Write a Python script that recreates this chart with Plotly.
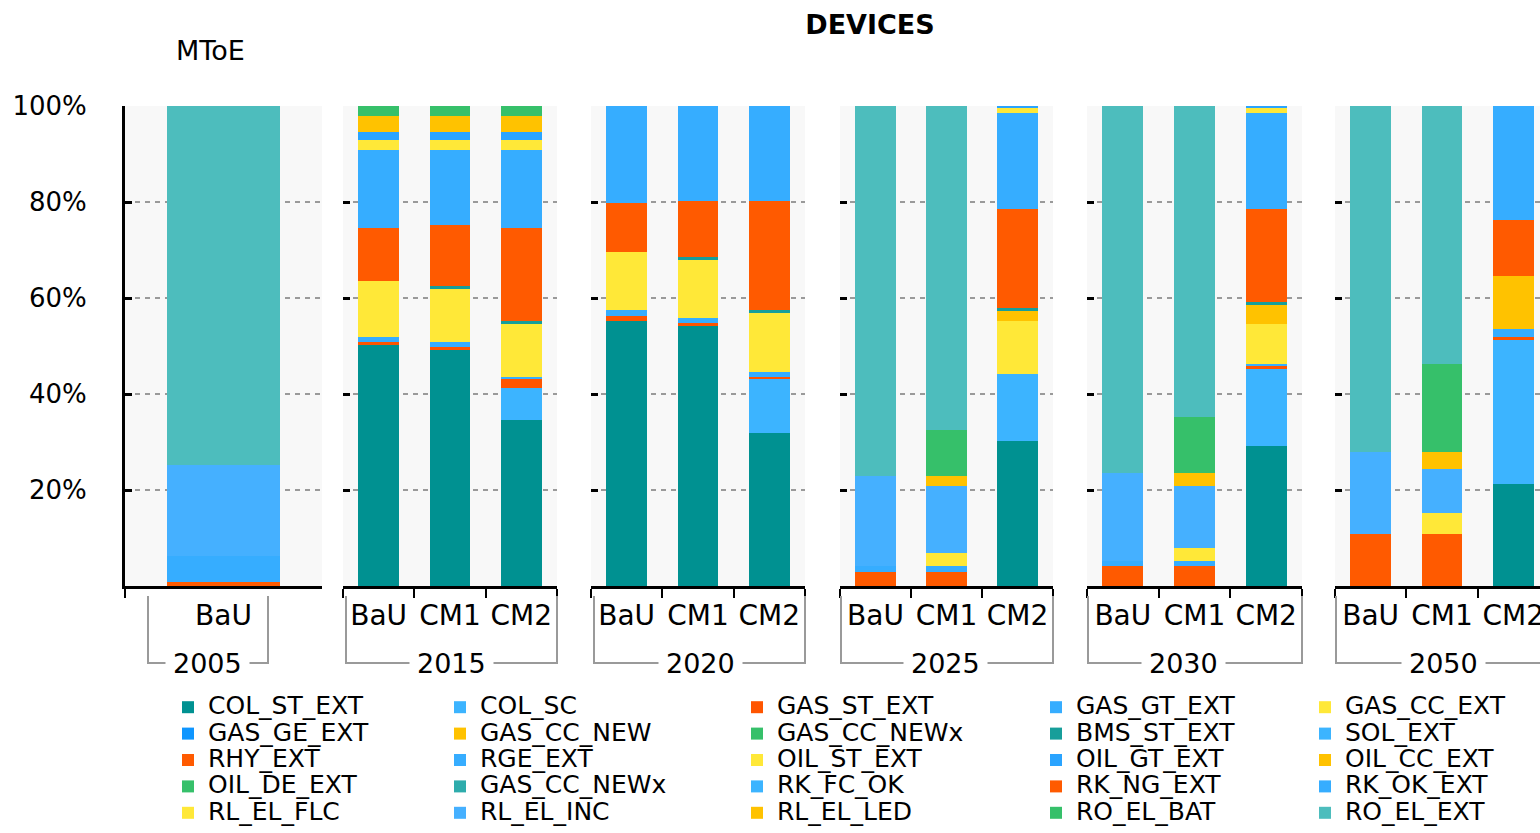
import plotly.graph_objects as go

# ---------------- data ----------------
YEARS = ["2005", "2015", "2020", "2025", "2030", "2050"]
SCENARIOS = [["BaU"], ["BaU", "CM1", "CM2"], ["BaU", "CM1", "CM2"],
             ["BaU", "CM1", "CM2"], ["BaU", "CM1", "CM2"], ["BaU", "CM1", "CM2"]]

# column order: 2005 BaU | 2015 BaU CM1 CM2 | 2020 ... | 2025 ... | 2030 ... | 2050 ...
COL_ST_EXT   = [0, 50.2, 49.3, 34.6, 55.3, 54.2, 31.8, 0, 0, 30.2, 0, 0, 29.15, 0, 0, 21.25]
COL_SC       = [0, 0, 0, 6.7, 0, 0, 11.25, 0, 0, 13.95, 0, 0, 16.05, 0, 0, 30.0]
GAS_ST_EXT   = [0, 0.7, 0.4, 1.75, 1.0, 0.5, 0.55, 0, 0, 0, 0, 0, 0.65, 0, 0, 0.7]
GAS_GT_EXT   = [0, 1.05, 1.05, 0.55, 1.2, 1.2, 1.05, 0, 0, 0, 0, 0, 0.4, 0, 0, 1.6]
GAS_CC_EXT   = [0, 11.55, 11.1, 11.0, 12.15, 12.0, 12.3, 0, 0, 11.15, 0, 0, 8.35, 0, 0, 0]
GAS_GE_EXT   = [0, 0, 0, 0, 0, 0, 0, 0, 0, 0, 0, 0, 0, 0, 0, 0]
GAS_CC_NEW   = [0, 0, 0, 0, 0, 0, 0, 0, 0, 2.05, 0, 0, 3.95, 0, 0, 11.05]
GAS_CC_NEWx_1 = [0, 0, 0, 0, 0, 0, 0, 0, 0, 0, 0, 0, 0, 0, 0, 0]
BMS_ST_EXT   = [0, 0, 0.6, 0.6, 0, 0.7, 0.55, 0, 0, 0.65, 0, 0, 0.6, 0, 0, 0]
SOL_EXT      = [0, 0, 0, 0, 0, 0, 0, 0, 0, 0, 0, 0, 0, 0, 0, 0]
RHY_EXT      = [0, 11.15, 12.7, 19.45, 10.05, 11.7, 22.8, 0, 0, 20.55, 0, 0, 19.4, 0, 0, 11.65]
RGE_EXT      = [0, 16.15, 15.6, 16.15, 20.3, 19.7, 19.7, 0, 0, 20.05, 0, 0, 20.05, 0, 0, 23.75]
OIL_ST_EXT   = [0, 2.1, 2.1, 2.1, 0, 0, 0, 0, 0, 1.0, 0, 0, 1.0, 0, 0, 0]
OIL_GT_EXT   = [0, 1.75, 1.75, 1.75, 0, 0, 0, 0, 0, 0.4, 0, 0, 0.4, 0, 0, 0]
OIL_CC_EXT   = [0, 3.25, 3.25, 3.25, 0, 0, 0, 0, 0, 0, 0, 0, 0, 0, 0, 0]
OIL_DE_EXT   = [0, 2.1, 2.1, 2.1, 0, 0, 0, 0, 0, 0, 0, 0, 0, 0, 0, 0]
GAS_CC_NEWx_2 = [0, 0, 0, 0, 0, 0, 0, 0, 0, 0, 0, 0, 0, 0, 0, 0]
RK_FC_OK     = [0, 0, 0, 0, 0, 0, 0, 0, 0, 0, 0, 0, 0, 0, 0, 0]
RK_NG_EXT    = [0.9, 0, 0, 0, 0, 0, 0, 3.0, 3.0, 0, 4.15, 4.15, 0, 10.85, 10.85, 0]
RK_OK_EXT    = [5.35, 0, 0, 0, 0, 0, 0, 1.15, 1.15, 0, 1.05, 1.05, 0, 0, 0, 0]
RL_EL_FLC    = [0, 0, 0, 0, 0, 0, 0, 0, 2.8, 0, 0, 2.8, 0, 0, 4.45, 0]
RL_EL_INC    = [18.95, 0, 0, 0, 0, 0, 0, 18.75, 13.85, 0, 18.25, 12.8, 0, 17.15, 9.0, 0]
RL_EL_LED    = [0, 0, 0, 0, 0, 0, 0, 0, 2.1, 0, 0, 2.65, 0, 0, 3.7, 0]
RO_EL_BAT    = [0, 0, 0, 0, 0, 0, 0, 0, 9.6, 0, 0, 11.85, 0, 0, 18.25, 0]
RO_EL_EXT    = [74.8, 0, 0, 0, 0, 0, 0, 77.1, 67.5, 0, 76.55, 64.7, 0, 72.0, 53.75, 0]

SERIES = [
    ("COL_ST_EXT", COL_ST_EXT, "#009191"),
    ("COL_SC", COL_SC, "#3cb4ff"),
    ("GAS_ST_EXT", GAS_ST_EXT, "#ff5500"),
    ("GAS_GT_EXT", GAS_GT_EXT, "#36adff"),
    ("GAS_CC_EXT", GAS_CC_EXT, "#ffe838"),
    ("GAS_GE_EXT", GAS_GE_EXT, "#0f96ff"),
    ("GAS_CC_NEW", GAS_CC_NEW, "#ffc200"),
    ("GAS_CC_NEWx", GAS_CC_NEWx_1, "#36c06a"),
    ("BMS_ST_EXT", BMS_ST_EXT, "#179e9a"),
    ("SOL_EXT", SOL_EXT, "#3cb4ff"),
    ("RHY_EXT", RHY_EXT, "#ff5a00"),
    ("RGE_EXT", RGE_EXT, "#36adff"),
    ("OIL_ST_EXT", OIL_ST_EXT, "#ffe838"),
    ("OIL_GT_EXT", OIL_GT_EXT, "#2aa4ff"),
    ("OIL_CC_EXT", OIL_CC_EXT, "#ffc200"),
    ("OIL_DE_EXT", OIL_DE_EXT, "#36c06a"),
    ("GAS_CC_NEWx", GAS_CC_NEWx_2, "#2eacac"),
    ("RK_FC_OK", RK_FC_OK, "#3cb4ff"),
    ("RK_NG_EXT", RK_NG_EXT, "#ff5a00"),
    ("RK_OK_EXT", RK_OK_EXT, "#36adff"),
    ("RL_EL_FLC", RL_EL_FLC, "#ffe838"),
    ("RL_EL_INC", RL_EL_INC, "#45b0ff"),
    ("RL_EL_LED", RL_EL_LED, "#ffc200"),
    ("RO_EL_BAT", RO_EL_BAT, "#36c06a"),
    ("RO_EL_EXT", RO_EL_EXT, "#4dbdbd"),
]

Y_TICKS = [0, 20, 40, 60, 80, 100]
Y_TICKTEXT = ["", "20%", "40%", "60%", "80%", "100%"]

# ---------------- layout geometry (pixels) ----------------
W, H = 1540, 833
FONT = "DejaVu Sans"
PANEL_PX = [(125, 322), (343, 557), (591, 805), (840, 1053), (1087, 1302), (1335, 1549)]
PLOT_TOP, PLOT_BOTTOM = 106, 586
BRACKET_PX = [(148, 268), (346, 557), (594, 805), (841, 1053), (1088, 1302), (1336, 1560)]
YEAR_LABEL_X = [208, 451, 700, 945, 1183, 1443]
LEGEND_TEXT_X = [210, 482, 779, 1078, 1347]


def px(x):
    return x / W


def py(y):
    return 1 - y / H


fig = go.Figure()

col = 0
for p, (year, scen) in enumerate(zip(YEARS, SCENARIOS)):
    n = len(scen)
    suffix = "" if p == 0 else str(p + 1)
    for i, (label, vals, color) in enumerate(SERIES):
        lg = "legend" if i % 5 == 0 else "legend%d" % (i % 5 + 1)
        fig.add_trace(go.Bar(
            x=scen, y=vals[col:col + n],
            name="<span style='font-size:25px'>%s</span>" % label,
            marker=dict(color=color, line=dict(width=0)),
            xaxis="x" + suffix, yaxis="y" + suffix,
            legendgroup="s%d" % i, showlegend=(p == 0), legend=lg,
            hovertemplate=label + ": %{y:.1f}%<extra>" + year + "</extra>",
        ))
    col += n

layout = dict(
    width=W, height=H,
    margin=dict(l=0, r=0, t=0, b=0, autoexpand=False),
    paper_bgcolor="white", plot_bgcolor="#f8f8f8",
    barmode="stack", bargap=0.43,
    font=dict(family=FONT, color="black", size=26),
    title=dict(text="<b>DEVICES</b>", x=px(870), xanchor="center",
               y=py(25), yanchor="middle", font=dict(size=27, family=FONT)),
)

for p, (year, scen) in enumerate(zip(YEARS, SCENARIOS)):
    n = len(scen)
    l, r = PANEL_PX[p]
    suffix = "" if p == 0 else str(p + 1)
    x_end = min(r, W)
    rng = [-0.5, -0.5 + n * (x_end - l) / (r - l)]
    layout["xaxis" + suffix] = dict(
        domain=[px(l), px(x_end)], anchor="y" + suffix, type="category",
        categoryorder="array", categoryarray=scen, range=rng,
        showline=True, linecolor="black", linewidth=3,
        ticks="outside", tickson="boundaries", ticklen=9, tickwidth=2, tickcolor="black",
        tickfont=dict(size=28, family=FONT), tickangle=0,
        showgrid=False, fixedrange=True, ticklabelstandoff=2, automargin=False,
    )
    layout["yaxis" + suffix] = dict(
        domain=[py(PLOT_BOTTOM), py(PLOT_TOP)], anchor="x" + suffix, range=[0, 100],
        tickvals=Y_TICKS, ticktext=Y_TICKTEXT, showticklabels=(p == 0),
        tickfont=dict(size=26, family=FONT),
        showgrid=True, gridcolor="#9a9a9a", gridwidth=2, griddash="5px,5px",
        ticks="inside", ticklen=7, tickwidth=3, tickcolor="black",
        showline=(p == 0), linecolor="black", linewidth=3, zeroline=False,
        fixedrange=True, ticklabelstandoff=30, automargin=False,
    )

# legends: 5 columns
for k in range(5):
    key = "legend" if k == 0 else "legend%d" % (k + 1)
    layout[key] = dict(
        x=px(LEGEND_TEXT_X[k] - 42), xanchor="left",
        y=py(689), yanchor="top", orientation="v",
        font=dict(size=18, family=FONT), bgcolor="rgba(0,0,0,0)",
        borderwidth=0, traceorder="normal", tracegroupgap=0,
    )

shapes = []
annotations = []
for p, year in enumerate(YEARS):
    l, r = BRACKET_PX[p]
    shapes.append(dict(
        type="path", xref="paper", yref="paper",
        path="M %f,%f L %f,%f L %f,%f L %f,%f" % (
            px(l), py(596), px(l), py(663), px(r), py(663), px(r), py(596)),
        line=dict(color="#9a9a9a", width=2),
    ))
    annotations.append(dict(
        text=year, xref="paper", yref="paper", x=px(YEAR_LABEL_X[p]), y=py(663),
        xanchor="center", yanchor="middle", showarrow=False,
        font=dict(size=27, family=FONT), bgcolor="white", borderpad=7,
    ))

annotations.append(dict(
    text="MToE", xref="paper", yref="paper", x=px(211), y=py(50),
    xanchor="center", yanchor="middle", showarrow=False,
    font=dict(size=27, family=FONT),
))

layout["shapes"] = shapes
layout["annotations"] = annotations
fig.update_layout(**layout)

fig.write_html("out.html", config={"displayModeBar": False},
               post_script="document.body.style.margin='0px';")
